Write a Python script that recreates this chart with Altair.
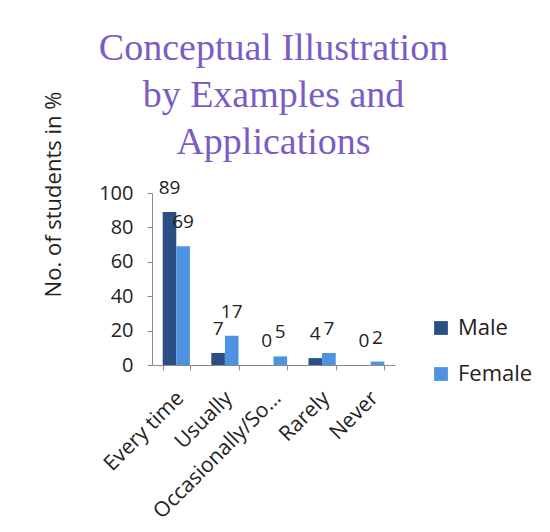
import altair as alt
import pandas as pd

categories = ["Every time", "Usually", "Occasionally/So…", "Rarely", "Never"]
male = [89, 7, 0, 4, 0]
female = [69, 17, 5, 7, 2]
series = ["Male", "Female"]
colors = ["#2b4f85", "#4e93e2"]
title_lines = ["Conceptual Illustration", "by Examples and", "Applications"]
y_ticks = [0, 20, 40, 60, 80, 100]

rows = []
for i, c in enumerate(categories):
    rows.append({"cat": c, "series": "Male", "value": male[i]})
    rows.append({"cat": c, "series": "Female", "value": female[i]})
df = pd.DataFrame(rows)

FONT = "Open Sans"

x = alt.X("cat:N", sort=categories, title=None,
          scale=alt.Scale(paddingInner=0.44, paddingOuter=0.22),
          axis=alt.Axis(labelAngle=315, labelFontSize=21, labelFont=FONT,
                        labelColor="#222", domainColor="#8a8a8a", tickColor="#8a8a8a",
                        tickBand="extent", tickSize=5, labelPadding=17, labelOffset=-4,
                        labelLimit=300))
xo = alt.XOffset("series:N", sort=series, scale=alt.Scale(paddingInner=0, paddingOuter=0))
y = alt.Y("value:Q", scale=alt.Scale(domain=[0, 100], nice=False),
          axis=alt.Axis(values=y_ticks, grid=False, title="No. of students in %",
                        titleFontSize=22, titleFont=FONT, titleFontWeight="normal",
                        titleColor="#222", titleAngle=270, titleX=-92, titleY=1,
                        titleBaseline="alphabetic", titleAlign="center",
                        labelFontSize=20, labelFont=FONT, labelColor="#222",
                        domainColor="#8a8a8a", tickColor="#8a8a8a", tickSize=5,
                        labelPadding=14))
color = alt.Color("series:N", sort=series,
                  scale=alt.Scale(domain=series, range=colors),
                  legend=alt.Legend(title=None, orient="none", legendX=278, legendY=124,
                                    symbolType="square", symbolSize=190,
                                    symbolStrokeWidth=0, labelFontSize=22,
                                    labelFont=FONT, labelColor="#222",
                                    rowPadding=24, labelOffset=6))

bars = alt.Chart(df).mark_bar().encode(x=x, xOffset=xo, y=y, color=color)
labels = alt.Chart(df).mark_text(baseline="alphabetic", dy=-18, fontSize=19,
                                 font=FONT, color="#222").encode(
    x=x, xOffset=xo, y=y, text="value:Q")

chart = alt.layer(bars, labels).properties(
    width=243, height=172,
    title=alt.TitleParams(text=title_lines, font="Liberation Serif", fontSize=38,
                          fontWeight="normal", color="#7a5cc6", lineHeight=47,
                          anchor="middle", offset=-71),
    autosize=alt.AutoSizeParams(type="none"),
    padding={"left": 144, "top": 185, "right": 140, "bottom": 160},
).configure(background="white").configure_view(strokeWidth=0, stroke="transparent")

chart.save("out.html", embed_options={"renderer": "svg", "actions": False})
